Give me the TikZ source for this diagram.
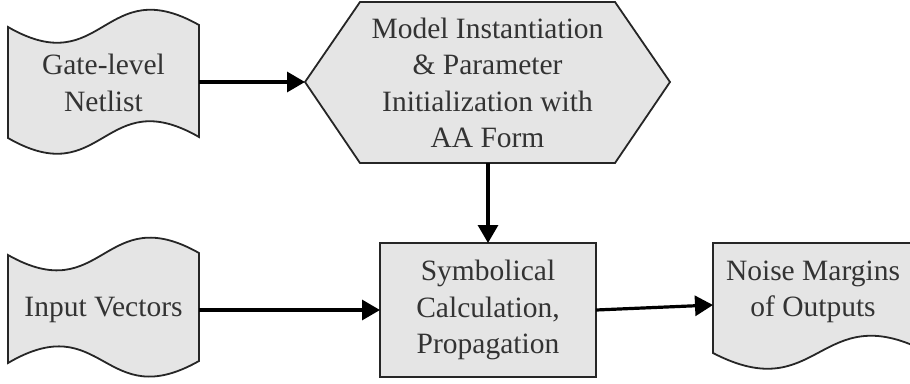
\documentclass[tikz,border=0pt]{standalone}
\usepackage{fontspec}
\setmainfont{Liberation Serif}
\usetikzlibrary{arrows.meta}
\begin{document}
\begin{tikzpicture}[x=1pt,y=-1pt,
  shapeline/.style={draw=black!85,line width=1.8pt,fill=black!10,line join=miter},
  lbl/.style={align=center,text=black!80,font=\fontsize{29.5}{36.5}\selectfont,inner sep=0pt},
  flow/.style={line width=3.2pt,draw=black,-{Triangle[length=18pt,width=20pt]}}]
\useasboundingbox (0,0) rectangle (910,383);
\clip (0,0) rectangle (910,383);
% Gate-level Netlist (wavy tape)
\draw[shapeline] (8,27) .. controls (103.5,82) and (103.5,-29) .. (199,25)
  -- (199,137) .. controls (103.5,82) and (103.5,193) .. (8,138) -- cycle;
\coordinate (gateE) at (199,82);
\node[lbl] (gate) at (103.5,83) {Gate-level\\Netlist};
% Hexagon
\draw[shapeline] (305,82) -- (360,2) -- (615,2) -- (670,82) -- (615,163) -- (360,163) -- cycle;
\coordinate (hexW) at (305,82);
\coordinate (hexS) at (488,163);
\node[lbl] (model) at (487.5,83) {Model Instantiation\\\& Parameter\\Initialization with\\AA Form};
% Input Vectors (wavy tape)
\draw[shapeline] (8,255) .. controls (103.5,309) and (103.5,199) .. (199,253)
  -- (199,361) .. controls (103.5,415) and (103.5,307) .. (8,363) -- cycle;
\coordinate (inE) at (199,310);
\node[lbl] (input) at (103.5,310) {Input Vectors};
% Symbolical Calculation box
\draw[shapeline] (380,243) rectangle (596,377);
\coordinate (boxN) at (488,243);
\coordinate (boxW) at (380,310);
\coordinate (boxE) at (596,310);
\node[lbl] (calc) at (488,310) {Symbolical\\Calculation,\\Propagation};
% Noise Margins (document)
\draw[shapeline] (713,243) -- (925,243) -- (925,351)
  .. controls (819,297) and (819,408) .. (713,353) -- cycle;
\coordinate (noiseW) at (713,305);
\node[lbl] (noise) at (813,292) {Noise Margins\\of Outputs};
% Connectors
\draw[flow] (gateE) -- (hexW);
\draw[flow] (hexS) -- (boxN);
\draw[flow] (inE) -- (boxW);
\draw[flow] (boxE) -- (noiseW);
\end{tikzpicture}
\end{document}
